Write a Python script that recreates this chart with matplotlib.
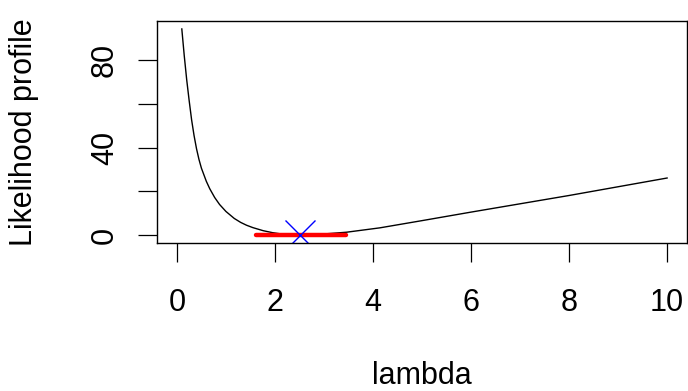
import matplotlib
matplotlib.use("Agg")
import matplotlib.pyplot as plt

plt.rcParams['font.family'] = ['Liberation Sans', 'DejaVu Sans']

# profile curve, read along lambda
lam = [0.10, 0.15, 0.20, 0.25, 0.30, 0.35, 0.40, 0.45, 0.50, 0.60, 0.67,
       0.77, 0.87, 1.00, 1.17, 1.30, 1.42, 1.55, 1.76, 1.95, 2.10, 2.30,
       2.52, 2.75, 3.00, 3.46, 4.14, 5.00, 6.00, 7.00, 8.00, 9.00, 10.00]
prof = [94.3, 82.0, 71.0, 61.5, 52.7, 45.5, 39.5, 34.6, 30.6, 24.6, 21.2,
        17.2, 14.0, 10.8, 7.6, 5.8, 4.5, 3.4, 2.0, 1.1, 0.6, 0.17,
        0.0, 0.15, 0.5, 1.3, 3.3, 6.6, 10.5, 14.3, 18.1, 22.1, 26.1]

# interval and estimate
ci = [1.61, 3.45]
lam_hat = 2.52

xticks = [0, 2, 4, 6, 8, 10]
yticks = [0, 20, 40, 60, 80]
ylabels = ['0', '', '40', '', '80']

fig = plt.figure(figsize=(6.88, 3.91), dpi=100)
ax = fig.add_axes([157.3 / 688, 1 - 243.3 / 391, 529.4 / 688, 222.6 / 391])

ax.plot(lam, prof, color='black', lw=1.0)
ax.plot(ci, [0, 0], color='red', lw=3.2, solid_capstyle='round')
ax.plot([lam_hat], [0], marker='x', color='blue', markersize=21.5, mew=1.0,
        linestyle='none')

ax.set_xlim(-0.4, 10.4)
ax.set_ylim(-3.77, 98.07)

ax.set_xticks(xticks)
ax.set_xticklabels([str(t) for t in xticks])
ax.set_yticks(yticks)
ax.set_yticklabels(ylabels, rotation=90, va='center')

for s in ax.spines.values():
    s.set_linewidth(1.0)
ax.tick_params(axis='both', length=14, width=0.9, labelsize=22, direction='out')
ax.tick_params(axis='x', pad=18)
ax.tick_params(axis='y', pad=13)

fig.text(422 / 688, 1 - 383.5 / 391, 'lambda', ha='center', va='baseline',
         fontsize=22)
fig.text(24 / 688, 0.5 * ((1 - 243.3 / 391) + (1 - 20.7 / 391)),
         'Likelihood profile', rotation=90, ha='center', va='center',
         fontsize=22)

fig.savefig('out.png', dpi=100)
